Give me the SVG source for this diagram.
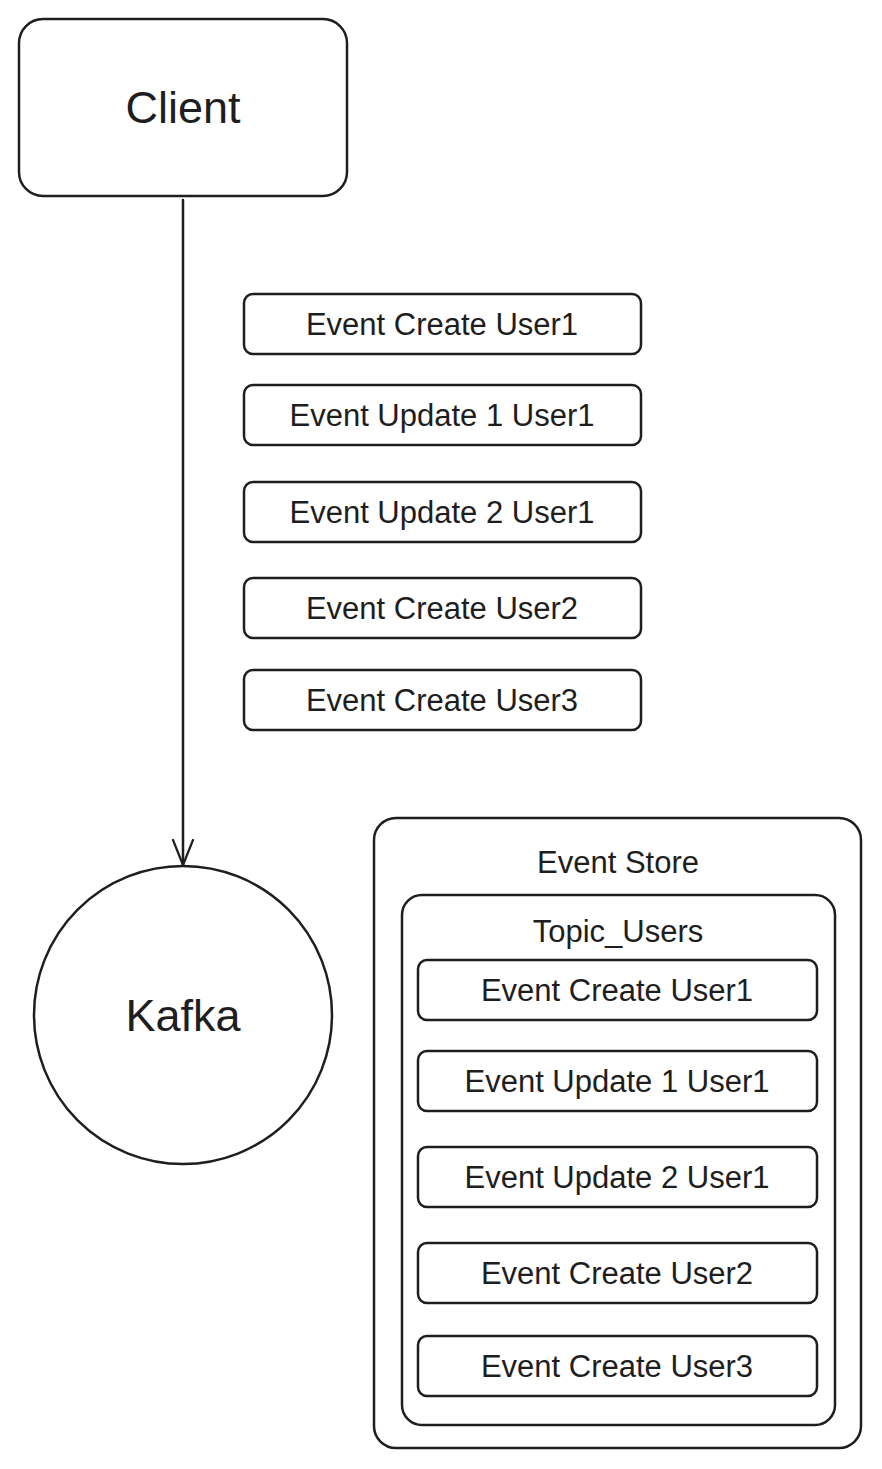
<svg xmlns="http://www.w3.org/2000/svg" width="882" height="1469" viewBox="0 0 882 1469">
<style>
.b{fill:none;stroke:#1e1e1e;stroke-width:2.5;stroke-linejoin:round}
.t{font-family:"Liberation Sans",Arial,sans-serif;fill:#1e1e1e;text-anchor:middle;dominant-baseline:central}
.s{font-size:31px}
.l{font-size:45px}
</style>
<rect width="882" height="1469" fill="#fff"/>
<g id="connectors">
<path d="M183 200 L183 865" class="b" stroke-linecap="round"/>
<path d="M173 840 L183 865 L193 840" fill="none" stroke="#1e1e1e" stroke-width="2.2" stroke-linecap="round" stroke-linejoin="round"/>
</g>
<g id="client">
<rect x="19" y="19" width="328" height="177" rx="24" class="b"/>
<text x="183" y="107" class="t l">Client</text>
</g>
<g id="e1"><rect x="244" y="294" width="397" height="60" rx="9" class="b"/><text x="442" y="324" class="t s">Event Create User1</text></g>
<g id="e2"><rect x="244" y="385" width="397" height="60" rx="9" class="b"/><text x="442" y="415" class="t s">Event Update 1 User1</text></g>
<g id="e3"><rect x="244" y="482" width="397" height="60" rx="9" class="b"/><text x="442" y="512" class="t s">Event Update 2 User1</text></g>
<g id="e4"><rect x="244" y="578" width="397" height="60" rx="9" class="b"/><text x="442" y="608" class="t s">Event Create User2</text></g>
<g id="e5"><rect x="244" y="670" width="397" height="60" rx="9" class="b"/><text x="442" y="700" class="t s">Event Create User3</text></g>
<g id="kafka">
<circle cx="183" cy="1015" r="149" class="b"/>
<text x="183" y="1015" class="t l">Kafka</text>
</g>
<g id="event-store">
<rect x="374" y="818" width="487" height="630" rx="22" class="b"/>
<text x="618" y="862" class="t s">Event Store</text>
</g>
<g id="topic-users">
<rect x="402" y="895" width="433" height="530" rx="20" class="b"/>
<text x="618" y="931" class="t s">Topic_Users</text>
</g>
<g id="s1"><rect x="418" y="960" width="399" height="60" rx="9" class="b"/><text x="617" y="990" class="t s">Event Create User1</text></g>
<g id="s2"><rect x="418" y="1051" width="399" height="60" rx="9" class="b"/><text x="617" y="1081" class="t s">Event Update 1 User1</text></g>
<g id="s3"><rect x="418" y="1147" width="399" height="60" rx="9" class="b"/><text x="617" y="1177" class="t s">Event Update 2 User1</text></g>
<g id="s4"><rect x="418" y="1243" width="399" height="60" rx="9" class="b"/><text x="617" y="1273" class="t s">Event Create User2</text></g>
<g id="s5"><rect x="418" y="1336" width="399" height="60" rx="9" class="b"/><text x="617" y="1366" class="t s">Event Create User3</text></g>
</svg>
